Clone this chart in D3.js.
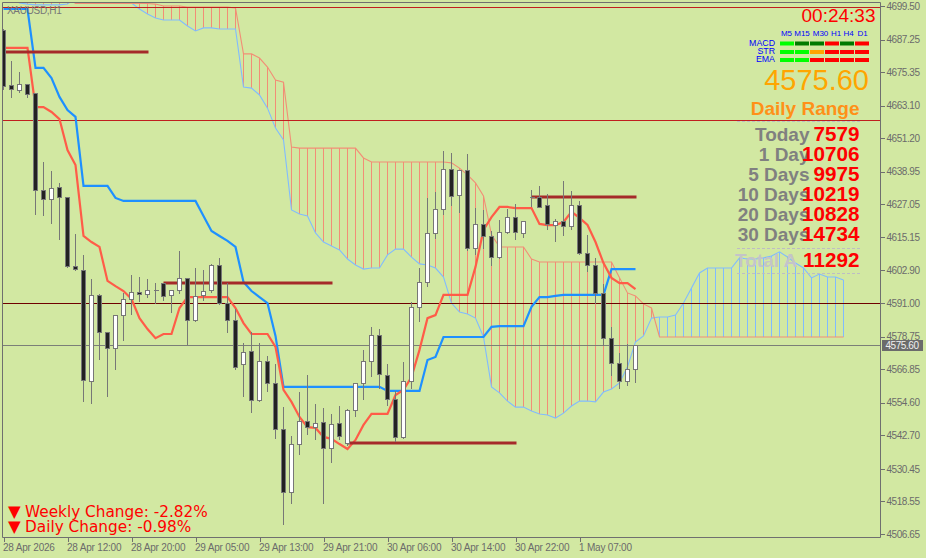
<!DOCTYPE html>
<html><head><meta charset="utf-8">
<script src="https://cdn.jsdelivr.net/npm/d3@7"></script>
<style>html,body{margin:0;padding:0;background:#D2E8A2;overflow:hidden}svg{display:block}text{font-family:"Liberation Sans",Arial,sans-serif}</style>
</head><body><div id="c"></div>
<script>
const open=[4690.7,4670.6,4668.8,4671.0,4667.7,4632.3,4629.0,4633.4,4629.7,4604.5,4603.1,4562.5,4594.0,4580.4,4574.6,4586.6,4592.5,4595.0,4594.3,4595.8,4598.3,4594.0,4595.8,4600.2,4584.8,4594.0,4595.8,4604.9,4591.0,4584.8,4568.7,4573.5,4555.6,4569.8,4561.8,4545.0,4522.0,4539.5,4547.9,4545.7,4547.6,4538.1,4547.2,4539.9,4551.9,4561.8,4569.8,4579.3,4564.7,4556.0,4542.1,4562.5,4589.6,4598.7,4616.6,4625.4,4640.0,4630.5,4639.6,4611.1,4619.9,4615.5,4607.8,4617.0,4622.4,4616.6,4629.7,4629.7,4626.8,4619.5,4621.0,4619.2,4626.8,4609.3,4604.9,4594.7,4578.2,4569.1,4562.5,4566.9];
const high=[4691.5,4679.8,4675.8,4671.4,4668.1,4642.9,4639.6,4635.2,4630.1,4616.6,4608.9,4600.2,4594.7,4580.8,4586.6,4595.0,4601.6,4600.9,4600.2,4598.7,4598.7,4596.1,4610.4,4600.5,4604.2,4603.4,4605.6,4607.8,4598.7,4589.2,4576.8,4580.8,4576.8,4572.0,4569.1,4553.4,4542.8,4558.9,4565.1,4554.5,4553.0,4550.8,4553.8,4552.7,4562.2,4574.2,4582.6,4581.9,4569.1,4559.3,4569.8,4591.8,4604.2,4629.7,4631.9,4646.9,4646.2,4639.6,4645.8,4626.1,4625.4,4617.7,4621.7,4625.7,4627.5,4621.0,4632.7,4634.1,4631.2,4622.1,4636.0,4632.3,4628.6,4616.2,4607.8,4598.3,4582.6,4573.1,4576.4,4575.6];
const low=[4669.2,4666.3,4668.1,4666.3,4623.5,4623.2,4620.3,4614.4,4604.2,4603.1,4555.2,4554.5,4570.6,4557.1,4566.9,4577.5,4587.0,4591.8,4593.2,4591.0,4592.1,4587.7,4594.7,4576.1,4584.4,4592.1,4595.0,4590.7,4580.4,4566.9,4557.1,4551.2,4555.2,4558.9,4541.7,4510.3,4518.0,4535.9,4543.2,4541.4,4518.0,4533.0,4541.4,4539.2,4549.7,4556.0,4564.4,4560.0,4553.8,4540.6,4541.7,4560.0,4584.4,4597.2,4614.8,4623.5,4626.8,4624.3,4610.4,4608.9,4611.1,4604.9,4607.5,4616.6,4614.4,4615.1,4626.5,4626.1,4618.1,4613.7,4615.9,4618.1,4608.9,4602.7,4591.0,4575.7,4564.7,4560.0,4561.1,4562.2];
const close=[4670.3,4669.2,4671.0,4667.4,4632.3,4629.0,4633.0,4629.7,4604.5,4603.4,4562.9,4594.0,4580.4,4574.6,4586.6,4592.5,4595.0,4594.3,4595.8,4595.8,4593.6,4595.8,4600.2,4584.8,4593.6,4595.4,4604.9,4591.0,4584.8,4567.7,4573.1,4555.6,4569.8,4561.8,4545.0,4522.0,4539.5,4547.9,4545.7,4547.2,4538.1,4546.8,4542.4,4551.9,4561.8,4569.8,4579.3,4565.1,4556.0,4542.1,4562.5,4589.6,4598.7,4616.6,4625.4,4640.0,4630.1,4639.6,4611.1,4619.9,4615.5,4607.8,4617.0,4622.4,4617.0,4621.0,4629.7,4626.1,4619.9,4621.0,4619.2,4626.8,4609.3,4604.9,4594.7,4578.2,4569.1,4562.5,4566.9,4575.6];
const tenkan=[4684.2,4684.2,4684.2,4684.2,4662.6,4662.6,4660.8,4658.2,4646.9,4641.4,4615.5,4613.3,4611.5,4599.1,4597.2,4595.4,4592.5,4585.5,4581.5,4578.2,4579.7,4579.7,4589.2,4593.2,4593.2,4593.2,4593.2,4593.2,4593.2,4589.2,4583.7,4579.7,4579.7,4579.7,4575.0,4559.3,4554.9,4549.4,4545.7,4545.4,4542.1,4541.4,4539.5,4537.7,4541.0,4546.5,4550.5,4550.5,4550.5,4557.4,4559.3,4564.0,4573.9,4585.5,4586.6,4594.0,4594.0,4594.0,4594.0,4604.2,4617.7,4622.4,4626.1,4626.1,4625.7,4625.7,4625.7,4619.9,4619.5,4619.5,4620.6,4624.3,4622.1,4619.5,4613.3,4605.6,4600.2,4598.3,4598.3,4596.1];
const kijun=[4698.4,4698.4,4698.4,4698.4,4676.9,4676.9,4673.2,4666.3,4661.5,4659.0,4633.8,4633.8,4633.8,4633.8,4629.4,4628.3,4628.3,4628.3,4628.3,4628.3,4628.3,4628.3,4628.3,4628.3,4628.3,4622.8,4617.3,4615.5,4613.7,4611.5,4598.7,4595.4,4593.2,4591.0,4579.0,4560.4,4560.4,4560.4,4560.4,4560.4,4560.4,4560.4,4560.4,4560.4,4560.4,4560.4,4560.4,4560.4,4558.9,4558.9,4558.9,4558.9,4558.9,4570.2,4571.3,4578.6,4578.6,4578.6,4578.6,4578.6,4578.6,4582.3,4582.6,4582.6,4582.6,4582.6,4589.6,4593.2,4593.2,4593.6,4594.0,4594.0,4594.0,4594.0,4594.0,4594.0,4603.4,4603.4,4603.4,4603.4];
const spanA=[4702.8,4702.8,4702.8,4702.8,4702.8,4702.8,4702.8,4702.8,4702.8,4700.4,4700.4,4700.4,4700.4,4700.4,4700.4,4700.4,4700.4,4700.4,4700.4,4700.2,4699.5,4699.5,4699.5,4699.1,4699.1,4699.1,4699.1,4699.1,4699.1,4698.8,4682.0,4682.0,4680.5,4677.2,4672.5,4671.7,4648.0,4647.6,4647.6,4647.6,4647.6,4647.6,4647.6,4647.6,4647.6,4644.0,4642.5,4642.5,4642.5,4642.5,4642.5,4642.5,4642.5,4642.5,4642.5,4642.5,4642.2,4640.3,4637.8,4634.9,4630.1,4615.9,4611.5,4611.5,4611.5,4611.5,4607.1,4606.0,4606.0,4606.0,4606.0,4606.0,4606.0,4606.0,4606.0,4606.0,4606.0,4600.2,4594.7,4593.6,4590.7,4589.2,4578.6,4578.6,4578.6,4578.6,4578.6,4578.6,4578.6,4578.6,4578.6,4578.6,4578.6,4578.6,4578.6,4578.6,4578.6,4578.6,4578.6,4578.6,4578.6,4578.6,4578.6,4578.6,4578.6,4578.6];
const spanB=[4702.8,4702.8,4700.6,4700.2,4699.9,4699.9,4699.9,4699.9,4700.2,4702.8,4702.8,4702.8,4702.8,4702.8,4702.8,4702.8,4700.6,4698.4,4696.6,4695.1,4694.4,4694.4,4694.4,4692.2,4690.4,4691.5,4691.5,4691.1,4691.1,4691.1,4669.9,4669.5,4667.0,4662.2,4654.9,4650.6,4625.0,4623.5,4622.8,4616.6,4613.3,4611.8,4610.4,4607.1,4604.9,4603.4,4603.8,4603.8,4608.6,4610.7,4610.7,4607.8,4605.3,4604.9,4603.8,4600.5,4591.0,4587.7,4587.0,4585.5,4578.6,4560.4,4558.2,4555.2,4553.0,4553.0,4551.6,4550.5,4550.1,4549.0,4550.8,4553.4,4555.2,4555.2,4554.9,4558.5,4559.6,4561.8,4567.7,4576.8,4579.0,4585.5,4585.9,4585.9,4586.6,4591.0,4596.5,4602.0,4603.8,4603.8,4603.8,4603.8,4607.5,4607.1,4607.1,4607.5,4608.2,4609.7,4607.8,4605.6,4603.8,4600.2,4601.6,4600.5,4600.5,4599.4];
const priceTicks=[4699.50,4687.25,4675.35,4663.10,4651.20,4638.95,4627.05,4615.15,4602.90,4591.00,4578.75,4566.85,4554.60,4542.70,4530.45,4518.55,4506.65];
const timeTickBars=[0,8,16,24,32,40,48,56,64,72];
const timeLabels=["28 Apr 2026","28 Apr 12:00","28 Apr 20:00","29 Apr 05:00","29 Apr 13:00","29 Apr 21:00","30 Apr 06:00","30 Apr 14:00","30 Apr 22:00","1 May 07:00"];
const levelPrices=[4682.7,4598.3,4539.9,4629.7];
const levelStart=[0,20,43,66];
const levelEnd=[18,41,64,79];
const redLines=[4699.1,4657.9];
const darkLine=4591.0;
const lastPrice=4575.60;
const tfNames=["M5","M15","M30","H1","H4","D1"];
const rowNames=["MACD","STR","EMA"];
const macdCells=["#00FF00","#007A00","#007A00","#FF0000","#007A00","#FF0000"];
const strCells=["#00FF00","#00FF00","#FFA500","#FF0000","#FF0000","#FF0000"];
const emaCells=["#00FF00","#00FF00","#FF0000","#FF0000","#FF0000","#FF0000"];
const rangeLabels=["Today","1 Day","5 Days","10 Days","20 Days","30 Days"];
const rangeValues=[7579,10706,9975,10219,10828,14734];
const totalLabel="Total A", totalValue=11292;
const changeTexts=["Weekly Change: -2.82%","Daily Change: -0.98%"];

const W=926,H=558,AX=880.5,BT=537.5,LF=2.5,TP=2.5;
const svg=d3.select("#c").append("svg").attr("width",W).attr("height",H);
svg.append("rect").attr("width",W).attr("height",H).attr("fill","#D2E8A2");
svg.append("defs").append("clipPath").attr("id","pc").append("rect").attr("x",3).attr("y",3).attr("width",877).attr("height",534);
const x=d3.scaleLinear().domain([0,105]).range([3.5,843.5]);
const y=d3.scaleLinear().domain([4699.5,4506.65]).range([6,534]);
const py=v=>Math.round(y(v))+0.5;
const plot=svg.append("g").attr("clip-path","url(#pc)");
const ORG="#F28E76",LBL="#80BBFF";
const idx=d3.range(spanA.length);
plot.append("g").selectAll("line").data(idx).join("line")
 .attr("x1",i=>x(i)).attr("x2",i=>x(i)).attr("y1",i=>y(spanA[i])).attr("y2",i=>y(spanB[i]))
 .attr("stroke",i=>spanA[i]>spanB[i]?ORG:LBL).attr("stroke-width",1).attr("shape-rendering","crispEdges");
const ln=d3.line().x(i=>x(i));
plot.append("path").attr("d",ln.y(i=>y(spanB[i]))(idx)).attr("fill","none").attr("stroke",LBL).attr("stroke-width",1.1);
plot.append("path").attr("d",ln.y(i=>y(spanA[i]))(idx)).attr("fill","none").attr("stroke",ORG).attr("stroke-width",1.1);
plot.append("g").selectAll("line").data(redLines).join("line").attr("x1",0).attr("x2",AX).attr("y1",py).attr("y2",py).attr("stroke","#C01E1E");
plot.append("line").attr("x1",0).attr("x2",AX).attr("y1",py(darkLine)).attr("y2",py(darkLine)).attr("stroke","#6E0000");
plot.append("line").attr("x1",0).attr("x2",AX).attr("y1",py(lastPrice)).attr("y2",py(lastPrice)).attr("stroke","#7B7F78");
const bars=d3.range(open.length);
plot.append("path").attr("d",ln.y(i=>y(kijun[i]))(bars)).attr("fill","none").attr("stroke","#1E90FF").attr("stroke-width",2.2);
plot.append("path").attr("d",ln.y(i=>y(tenkan[i]))(bars)).attr("fill","none").attr("stroke","#FF5C48").attr("stroke-width",2.2);
plot.append("g").selectAll("line").data(levelPrices).join("line")
 .attr("x1",(d,i)=>x(levelStart[i])).attr("x2",(d,i)=>x(levelEnd[i])+1).attr("y1",d=>y(d)).attr("y2",d=>y(d))
 .attr("stroke","#A52A2A").attr("stroke-width",3);
const cg=plot.append("g").attr("shape-rendering","crispEdges");
cg.selectAll("line").data(bars).join("line").attr("x1",i=>x(i)).attr("x2",i=>x(i)).attr("y1",i=>py(high[i])).attr("y2",i=>py(low[i])).attr("stroke","#777");
cg.selectAll("rect").data(bars.filter(i=>open[i]!==close[i])).join("rect")
 .attr("x",i=>x(i)-2).attr("width",4)
 .attr("y",i=>py(Math.max(open[i],close[i])))
 .attr("height",i=>py(Math.min(open[i],close[i]))-py(Math.max(open[i],close[i])))
 .attr("fill",i=>close[i]>open[i]?"#FFFFFF":"#222222").attr("stroke","#777");
cg.selectAll("line.d").data(bars.filter(i=>open[i]===close[i])).join("line").attr("class","d")
 .attr("x1",i=>x(i)-2).attr("x2",i=>x(i)+3).attr("y1",i=>py(open[i])).attr("y2",i=>py(open[i])).attr("stroke","#777");

const AC="#6F6F6F";
svg.append("path").attr("d",`M${LF},${BT}V${TP}H${AX}V${BT}H${LF}`).attr("fill","none").attr("stroke",AC);
const yAxis=d3.axisRight(y).tickValues(priceTicks).tickSize(4).tickPadding(2).tickFormat(d3.format(".2f"));
const ya=svg.append("g").attr("transform",`translate(${AX},0)`).call(yAxis);
ya.select(".domain").remove();
ya.selectAll("line").attr("stroke",AC).attr("shape-rendering","crispEdges");
ya.selectAll("text").attr("fill","#6b6b6b").style("font-size","10px").style("letter-spacing","-0.45px").style("font-family","'Liberation Sans'");
const xAxis=d3.axisBottom(x).tickValues(timeTickBars).tickSize(4).tickPadding(2).tickFormat((d,i)=>timeLabels[i]);
const xa=svg.append("g").attr("transform",`translate(0,${BT})`).call(xAxis);
xa.select(".domain").remove();
xa.selectAll("line").attr("stroke",AC).attr("shape-rendering","crispEdges");
xa.selectAll("text").attr("fill","#6b6b6b").attr("text-anchor","start").attr("x",-1).style("font-size","10px").style("letter-spacing","-0.2px").style("font-family","'Liberation Sans'");

svg.append("rect").attr("x",882).attr("y",340).attr("width",41).attr("height",11).attr("fill","#6B6B6B");
svg.append("text").attr("x",885.5).attr("y",349).attr("fill","#F0F0F0").style("font-size","10px").style("letter-spacing","-0.45px").text(d3.format(".2f")(lastPrice));
svg.append("text").attr("x",7).attr("y",14).attr("fill","#777").style("font-size","10px").style("letter-spacing","-0.3px").text("XAUUSD,H1");

const t=(xx,yy,s,fs,col,o={})=>svg.append("text").attr("x",xx).attr("y",yy).attr("fill",col).attr("text-anchor",o.a||"start").style("font-size",fs+"px").style("font-weight",o.b?"bold":"normal").text(s);
t(875.5,22,"00:24:33",19,"#FF0000",{a:"end"});
const tfCx=[786.5,802,820.5,836,848.5,862.5];
tfNames.forEach((n,i)=>t(tfCx[i],36,n,8,"#0000FF",{a:"middle"}));
const rowY=[45.7,53.7,61.7];
rowNames.forEach((n,i)=>t(775,rowY[i],n,8.8,"#0000FF",{a:"end"}));
[macdCells,strCells,emaCells].forEach((row,r)=>row.forEach((c,k)=>{
 svg.append("rect").attr("x",780+15*k).attr("y",[41.5,50,58][r]).attr("width",14).attr("height",4).attr("fill",c);
}));
t(869,90,d3.format(".2f")(lastPrice),29,"#FFA500",{a:"end"});
t(859.5,115,"Daily Range",19,"#FF9018",{a:"end",b:1});
const dash=[121.5,248.5,273.5];
dash.forEach(d=>svg.append("line").attr("x1",737).attr("x2",860).attr("y1",d).attr("y2",d).attr("stroke","#BDBDC4").attr("stroke-dasharray","3,2"));
const rowBase=[140.7,160.7,180.7,200.7,220.7,240.7];
rangeLabels.forEach((s,i)=>t(809.5,rowBase[i],s,19,"#808080",{a:"end",b:1}));
t(735,267,totalLabel,19,"#C4C4C8",{b:1});
rangeValues.forEach((v,i)=>t(859.5,rowBase[i],String(v),20.7,"#FF0000",{a:"end",b:1}));
t(859.5,267,String(totalValue),20.7,"#FF0000",{a:"end",b:1});
const chY=[516.7,531.7];
changeTexts.forEach((s,i)=>{
 t(25,chY[i],s,15.3,"#FF0000").style("font-family","'DejaVu Sans'");
 t(8,chY[i],"\u25BC",16.5,"#FF0000").style("font-family","'DejaVu Sans'");
});
</script></body></html>
